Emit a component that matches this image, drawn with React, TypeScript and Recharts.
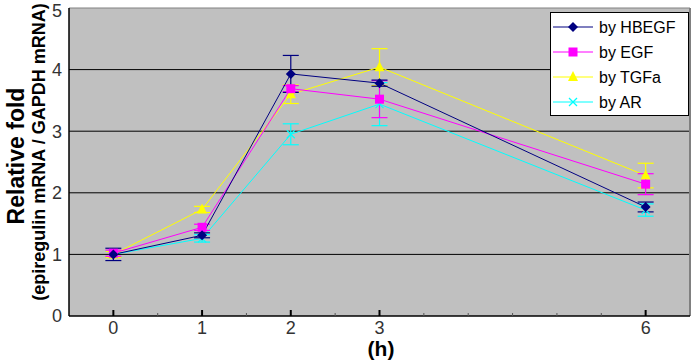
import React from 'react';
import { ComposedChart, Line, XAxis, YAxis, CartesianGrid, ErrorBar, ReferenceLine } from 'recharts';

const hours = [0, 1, 2, 3, 6];
const hbegf = [1.0, 1.31, 3.93, 3.78, 1.77];
const hbegfErr = [0.1, 0.04, 0.3, 0.05, 0.08];
const egf = [1.02, 1.44, 3.69, 3.52, 2.14];
const egfErr = [0.05, 0.05, 0.05, 0.3, 0.17];
const tgfa = [1.0, 1.73, 3.6, 4.04, 2.28];
const tgfaErr = [0.05, 0.05, 0.15, 0.3, 0.2];
const ar = [1.0, 1.26, 2.95, 3.44, 1.72];
const arErr = [0.05, 0.06, 0.17, 0.35, 0.1];

const xTicks = [0, 0.5, 1, 1.5, 2, 2.5, 3, 3.5, 4, 4.5, 5, 5.5, 6];
const xLabels = [0, 1, 2, 3, 6];
const yTicks = [0, 1, 2, 3, 4, 5];

const data = hours.map((h, i) => ({
  h,
  hb: hbegf[i], hbErr: hbegfErr[i],
  egf: egf[i], egfErr: egfErr[i],
  tg: tgfa[i], tgErr: tgfaErr[i],
  ar: ar[i], arErr: arErr[i],
}));

const NAVY = '#000080';
const MAGENTA = '#ff00ff';
const YELLOW = '#ffff00';
const CYAN = '#00ffff';

const tickFont = "'Liberation Sans Narrow', 'Liberation Sans', sans-serif";
const labelFont = 'Liberation Sans, Arial, sans-serif';

function Marker({ kind, cx, cy, color }: { kind: string; cx: number; cy: number; color: string }) {
  if (kind === 'diamond') {
    return <polygon points={`${cx},${cy - 5} ${cx + 5},${cy} ${cx},${cy + 5} ${cx - 5},${cy}`} fill={color} />;
  }
  if (kind === 'square') {
    return <rect x={cx - 4.5} y={cy - 4.5} width={9} height={9} fill={color} />;
  }
  if (kind === 'triangle') {
    return <polygon points={`${cx},${cy - 6} ${cx + 5},${cy + 4} ${cx - 5},${cy + 4}`} fill={color} />;
  }
  return (
    <g stroke={color} strokeWidth={1.2}>
      <line x1={cx - 4} y1={cy - 4} x2={cx + 4} y2={cy + 4} />
      <line x1={cx - 4} y1={cy + 4} x2={cx + 4} y2={cy - 4} />
    </g>
  );
}

const dotFor = (kind: string, color: string) => (props: any) => {
  const { cx, cy, index } = props;
  return <Marker key={`${kind}-${index}`} kind={kind} cx={cx} cy={cy} color={color} />;
};

function XTick(props: any) {
  const { x, y, payload } = props;
  const major = xLabels.includes(payload.value);
  return (
    <g>
      <line x1={x} y1={y} x2={x} y2={y - (major ? 6 : 3)} stroke={major ? '#000' : '#555'} strokeWidth={major ? 2 : 1} />
      {major && (
        <text x={x} y={y + 18} textAnchor="middle" fontSize={18} fill="#333" fontFamily={tickFont}>
          {payload.value}
        </text>
      )}
    </g>
  );
}

const legendItems = [
  { name: 'by HBEGF', color: NAVY, kind: 'diamond' },
  { name: 'by EGF', color: MAGENTA, kind: 'square' },
  { name: 'by TGFa', color: YELLOW, kind: 'triangle' },
  { name: 'by AR', color: CYAN, kind: 'x' },
];

export default function App() {
  return (
    <div style={{ position: 'relative', width: 693, height: 362, background: '#fff', fontFamily: labelFont }}>
      <style>{'body{margin:0}'}</style>
      <ComposedChart width={693} height={362} data={data} margin={{ top: 8, right: 3, bottom: 0, left: 0 }}>
        <CartesianGrid fill="#c0c0c0" vertical={false} horizontalValues={[1, 2, 3, 4]} stroke="#000" strokeOpacity={1} />
        <XAxis
          dataKey="h"
          type="number"
          domain={[-0.5, 6.5]}
          ticks={xTicks}
          interval={0}
          tick={<XTick />}
          tickLine={false}
          tickSize={0}
          tickMargin={0}
          axisLine={{ stroke: '#000', strokeWidth: 1.5 }}
          height={46}
        />
        <YAxis
          type="number"
          domain={[0, 5]}
          ticks={yTicks}
          width={69}
          tickLine={false}
          tickSize={0}
          tickMargin={7}
          axisLine={{ stroke: '#000', strokeWidth: 1.5 }}
          tick={{ fontSize: 18, fill: '#333', fontFamily: tickFont }}
        />
        <ReferenceLine y={5} stroke="#808080" />
        <ReferenceLine x={6.5} stroke="#808080" strokeWidth={2} />
        <Line dataKey="ar" stroke={CYAN} strokeWidth={1} dot={dotFor('x', CYAN)} isAnimationActive={false}>
          <ErrorBar dataKey="arErr" direction="y" width={8} stroke={CYAN} strokeWidth={1.2} />
        </Line>
        <Line dataKey="tg" stroke={YELLOW} strokeWidth={1} dot={dotFor('triangle', YELLOW)} isAnimationActive={false}>
          <ErrorBar dataKey="tgErr" direction="y" width={8} stroke={YELLOW} strokeWidth={1.2} />
        </Line>
        <Line dataKey="egf" stroke={MAGENTA} strokeWidth={1} dot={dotFor('square', MAGENTA)} isAnimationActive={false}>
          <ErrorBar dataKey="egfErr" direction="y" width={8} stroke={MAGENTA} strokeWidth={1.2} />
        </Line>
        <Line dataKey="hb" stroke={NAVY} strokeWidth={1} dot={dotFor('diamond', NAVY)} isAnimationActive={false}>
          <ErrorBar dataKey="hbErr" direction="y" width={8} stroke={NAVY} strokeWidth={1.2} />
        </Line>
      </ComposedChart>

      <svg width={693} height={362} style={{ position: 'absolute', left: 0, top: 0, pointerEvents: 'none' }}>
        <text transform="translate(24,156) rotate(-90)" textAnchor="middle" fontSize={23} fontWeight="bold" fill="#000" fontFamily={labelFont}>
          Relative fold
        </text>
        <text transform="translate(45,152) rotate(-90)" textAnchor="middle" fontSize={18} fontWeight="bold" fill="#000" fontFamily={labelFont}>
          (epiregulin mRNA / GAPDH mRNA)
        </text>
        <text x={381} y={356} textAnchor="middle" fontSize={21} fontWeight="bold" fill="#000" fontFamily={labelFont}>
          (h)
        </text>
        <rect x={550.5} y={12.5} width={138} height={103} fill="#fff" stroke="#000" strokeWidth={1} />
        {legendItems.map((it, i) => {
          const y = 27 + i * 25;
          return (
            <g key={it.name}>
              <line x1={553} y1={y} x2={593} y2={y} stroke={it.color} strokeWidth={1.2} />
              <Marker kind={it.kind} cx={573} cy={y} color={it.color} />
              <text x={599} y={y + 6} fontSize={16} fill="#000" fontFamily={labelFont}>
                {it.name}
              </text>
            </g>
          );
        })}
      </svg>
    </div>
  );
}
